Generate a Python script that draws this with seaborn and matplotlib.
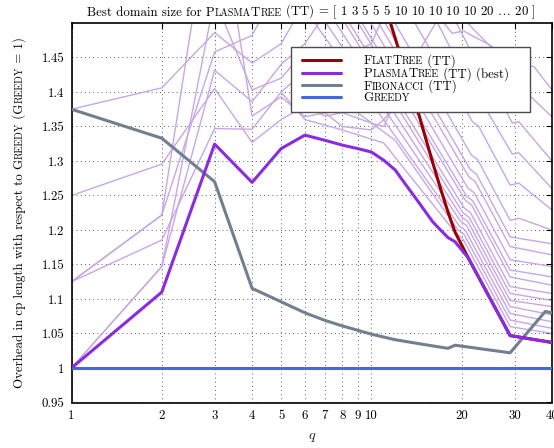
import numpy as np
import pandas as pd
import matplotlib
matplotlib.use("Agg")
import matplotlib.pyplot as plt
import seaborn as sns
from matplotlib.lines import Line2D
from matplotlib.offsetbox import TextArea, HPacker, DrawingArea
from matplotlib.ticker import FixedLocator, FixedFormatter, NullLocator

# ---------------- data ----------------
greedy_q = [1, 40]
greedy_v = [1.0, 1.0]

best_q = [1, 2, 3, 4, 5, 6, 7, 8, 9, 10, 11, 12, 13, 14, 16, 17, 18, 19, 21, 29, 40]
best_v = [1.0, 1.11, 1.3245, 1.269, 1.318, 1.3375, 1.330, 1.323, 1.318, 1.313, 1.301,
          1.287, 1.266, 1.247, 1.212, 1.200, 1.189, 1.183, 1.160, 1.047, 1.037]

flat_q = [11, 12, 13, 14, 15, 16, 17, 18, 19, 20, 21, 29, 40]
flat_v = [1.531, 1.478, 1.430, 1.386, 1.340, 1.298, 1.260, 1.226, 1.197, 1.178, 1.160, 1.047, 1.037]

fib_q = [1, 2, 3, 4, 5, 6, 7, 8, 10, 12, 15, 18, 19, 29, 38, 40]
fib_v = [1.375, 1.333, 1.27, 1.1155, 1.096, 1.080, 1.069, 1.061, 1.049, 1.041, 1.034,
         1.0285, 1.033, 1.022, 1.082, 1.080]

# PlasmaTree (TT) curves for the individual domain sizes (light lines)
dom_a = ([1, 2, 3, 4, 5, 6, 8, 12, 16, 18.6, 20.3, 22, 24.4, 26.9, 29.9, 34.8, 40],
         [1.375, 1.406, 1.486, 1.442, 1.47, 1.53, 1.58, 1.60, 1.52, 1.485, 1.4886, 1.48, 1.47, 1.458, 1.439, 1.437, 1.403])
dom_b = ([1, 2, 3, 4, 5, 6, 7, 8, 10, 11, 14, 18, 22, 26.3, 30, 34, 40],
         [1.25, 1.2955, 1.405, 1.327, 1.36, 1.38, 1.365, 1.37, 1.355, 1.35, 1.45, 1.53, 1.49, 1.456, 1.422, 1.393, 1.364])
dom_c = ([1, 2, 3, 4, 5, 6], [1.125, 1.2216, 1.458, 1.482, 1.56, 1.60])
dom_d = ([1, 2, 3, 4, 5, 6, 8, 10, 12], [1.125, 1.1854, 1.347, 1.346, 1.40, 1.43, 1.45, 1.47, 1.55])
dom_e = ([1, 2, 3, 4, 5, 6, 8], [1.0, 1.147, 1.4316, 1.386, 1.44, 1.47, 1.55])
dom_f = ([1, 2, 3, 4, 5, 6], [1.0, 1.147, 1.535, 1.403, 1.42, 1.46])
dom_g = ([1, 2, 3, 4, 5, 6, 7, 8, 10, 11, 13], [1.125, 1.2216, 1.71, 1.365, 1.393, 1.364, 1.37, 1.35, 1.345, 1.36, 1.40])
dom_01 = ([5, 6, 8, 11, 12.8, 19.24, 20.2, 29, 40], [1.40, 1.36, 1.345, 1.326, 1.29, 1.194, 1.187, 1.060, 1.050])
dom_02 = ([5.5, 7, 9, 12, 19.43, 20.4, 29, 40], [1.45, 1.40, 1.37, 1.33, 1.200, 1.193, 1.0695, 1.0575])
dom_03 = ([5.16, 19.62, 20.6, 29, 40], [1.56, 1.206, 1.199, 1.079, 1.067])
dom_04 = ([5.68, 19.81, 20.8, 29, 40], [1.56, 1.213, 1.206, 1.089, 1.077])
dom_05 = ([6.19, 20.0, 21.0, 29, 40], [1.56, 1.219, 1.212, 1.098, 1.089])
dom_06 = ([6.70, 20.19, 21.2, 29, 40], [1.56, 1.225, 1.218, 1.108, 1.098])
dom_07 = ([6.93, 20.38, 21.4, 29, 40], [1.56, 1.232, 1.225, 1.118, 1.108])
dom_08 = ([7.46, 20.57, 21.6, 29, 40], [1.56, 1.243, 1.236, 1.132, 1.120])
dom_09 = ([7.68, 20.76, 21.8, 29, 40], [1.56, 1.249, 1.242, 1.142, 1.132])
dom_10 = ([8.25, 20.95, 22.0, 29, 40], [1.56, 1.261, 1.254, 1.157, 1.147])
dom_11 = ([8.77, 21.14, 22.2, 29, 40], [1.56, 1.277, 1.270, 1.176, 1.164])
dom_12 = ([9.24, 21.33, 22.4, 29, 40], [1.56, 1.288, 1.281, 1.190, 1.180])
dom_13 = ([9.96, 21.52, 22.6, 29, 31, 40], [1.56, 1.309, 1.302, 1.214, 1.217, 1.200])
dom_14 = ([11.6, 21.71, 22.8, 29, 31, 40], [1.56, 1.357, 1.350, 1.265, 1.268, 1.229])
dom_15 = ([14.1, 22.0, 23.0, 29.5, 31, 40], [1.56, 1.397, 1.390, 1.310, 1.312, 1.260])
dom_16 = ([16.3, 22.2, 23.2, 29.5, 31, 40], [1.56, 1.447, 1.440, 1.355, 1.357, 1.300])

domain_series = [dom_a, dom_b, dom_c, dom_d, dom_e, dom_f, dom_g,
                 dom_01, dom_02, dom_03, dom_04, dom_05, dom_06, dom_07, dom_08,
                 dom_09, dom_10, dom_11, dom_12, dom_13, dom_14, dom_15, dom_16]

x_ticks = [1, 2, 3, 4, 5, 6, 7, 8, 9, 10, 20, 30, 40]
x_ticklabels = ["1", "2", "3", "4", "5", "6", "7", "8", "9", "10", "20", "30", "40"]
y_ticks = [0.95, 1.0, 1.05, 1.1, 1.15, 1.2, 1.25, 1.3, 1.35, 1.4, 1.45]
y_ticklabels = ["0.95", "1", "1.05", "1.1", "1.15", "1.2", "1.25", "1.3", "1.35", "1.4", "1.45"]

# ---------------- style ----------------
sns.set_theme(style="white")
plt.rcParams["font.family"] = ["cmr10", "DejaVu Serif"]
plt.rcParams["mathtext.fontset"] = "cm"
plt.rcParams["axes.formatter.use_mathtext"] = True
plt.rcParams["axes.unicode_minus"] = False

FS = 9.3
SC = 0.78

C_LIGHT = "#c9a6e6"
C_FLAT = "#990000"
C_BEST = "#8a2be2"
C_FIB = "#708090"
C_GREEDY = "#4169e1"

W, H = 554, 448
fig = plt.figure(figsize=(W / 100, H / 100), dpi=100)
ax = fig.add_axes([71.5 / W, 1 - 402.5 / H, (552 - 71.5) / W, (402.5 - 23) / H])

for q, v in domain_series:
    sns.lineplot(x=q, y=v, ax=ax, color=C_LIGHT, lw=1.0, sort=False, estimator=None, zorder=2)

sns.lineplot(x=greedy_q, y=greedy_v, ax=ax, color=C_GREEDY, lw=2.2, sort=False, estimator=None, zorder=3)
sns.lineplot(x=fib_q, y=fib_v, ax=ax, color=C_FIB, lw=2.2, sort=False, estimator=None, zorder=4)
sns.lineplot(x=flat_q, y=flat_v, ax=ax, color=C_FLAT, lw=2.2, sort=False, estimator=None, zorder=5)
sns.lineplot(x=best_q, y=best_v, ax=ax, color=C_BEST, lw=2.2, sort=False, estimator=None, zorder=6)

ax.set_xscale("log")
ax.set_xlim(1, 40)
ax.set_ylim(0.95, 1.5)
ax.xaxis.set_major_locator(FixedLocator(x_ticks))
ax.xaxis.set_major_formatter(FixedFormatter(x_ticklabels))
ax.xaxis.set_minor_locator(NullLocator())
ax.yaxis.set_major_locator(FixedLocator(y_ticks))
ax.yaxis.set_major_formatter(FixedFormatter(y_ticklabels))
ax.yaxis.set_minor_locator(NullLocator())
ax.tick_params(direction="in", top=True, right=True, length=4, width=0.8,
               labelsize=FS, pad=5, colors="black")
ax.grid(True, which="major", linestyle=(0, (1, 4)), color="0.15", linewidth=0.6)
for s in ax.spines.values():
    s.set_linewidth(1.2)
    s.set_color("black")
ax.set_xlabel("$q$", fontsize=FS + 1, labelpad=6)
ax.set_ylabel("")


def sc(word, size):
    parts = []
    for ch in word:
        if ch.isupper() or not ch.isalpha():
            sz = size
            c = ch
        else:
            sz = size * SC
            c = ch.upper()
        if parts and parts[-1][1] == sz:
            parts[-1][0] += c
        else:
            parts.append([c, sz])
    return [(p[0], p[1]) for p in parts]


def merge(*groups):
    out = []
    for g in groups:
        for s, sz in g:
            if out and out[-1][1] == sz:
                out[-1] = (out[-1][0] + s, sz)
            else:
                out.append((s, sz))
    return out


# ---------------- legend (small caps labels) ----------------
handles = [Line2D([], [], color=C_FLAT, lw=2.2),
           Line2D([], [], color=C_BEST, lw=2.2),
           Line2D([], [], color=C_FIB, lw=2.2),
           Line2D([], [], color=C_GREEDY, lw=2.2)]
label_parts = [
    merge(sc("FlatTree", FS), [(" (TT)", FS)]),
    merge(sc("PlasmaTree", FS), [(" (TT) (best)", FS)]),
    merge(sc("Fibonacci", FS), [(" (TT)", FS)]),
    merge(sc("Greedy", FS)),
]
labels = ["FlatTree (TT)", "PlasmaTree (TT) (best)", "Fibonacci (TT)", "Greedy"]
leg = ax.legend(handles, labels, loc="upper left",
                bbox_to_anchor=(291 / W, 1 - 47 / H), bbox_transform=fig.transFigure,
                fontsize=FS, frameon=True, fancybox=False, framealpha=1.0,
                edgecolor="0.3", handlelength=3.0, handletextpad=1.75,
                borderpad=0.55, labelspacing=-0.08, borderaxespad=0)
leg.get_frame().set_linewidth(1.0)
leg.set_zorder(10)
columns = leg._legend_handle_box.get_children()
items = [it for col in columns for it in col.get_children()]
for item, parts in zip(items, label_parts):
    hp = HPacker(children=[TextArea(s, textprops=dict(fontsize=sz, color="black"))
                           for s, sz in parts] + [DrawingArea(10, 1)],
                 pad=0, sep=0, align="baseline")
    hp.set_figure(fig)
    left = HPacker(children=[DrawingArea(3, 1), item._children[0]], pad=0, sep=0, align="center")
    left.set_figure(fig)
    item._children[0] = left
    item._children[1] = hp

# ---------------- title and y label with small caps ----------------
renderer = fig.canvas.get_renderer()


def place(parts, cx, cy, vertical=False):
    texts, widths = [], []
    for s, sz in parts:
        t = fig.text(0, 0, s, fontsize=sz, color="black", ha="left", va="baseline")
        widths.append(t.get_window_extent(renderer).width)
        texts.append(t)
    pos = -sum(widths) / 2
    for t, w in zip(texts, widths):
        if vertical:
            t.set_rotation(90)
            t.set_rotation_mode("anchor")
            t.set_position((cx / W, (cy + pos) / H))
        else:
            t.set_position(((cx + pos) / W, cy / H))
        pos += w


title_parts = merge([("Best domain size for", FS)],
                    sc(" PlasmaTree", FS),
                    [(r" (TT) = [ 1 3 5 5 5 10 10 10 10 10 20 $\ldots$ 20 ]", FS)])
place(title_parts, 311.8, H - 15.5)

ylabel_parts = merge([("Overhead in cp length with respect to ", FS)], sc("Greedy", FS),
                     [(" (", FS)], sc("Greedy", FS), [(" = 1)", FS)])
place(ylabel_parts, 22.5, H - 212.7, vertical=True)

fig.savefig("out.png", dpi=100)
